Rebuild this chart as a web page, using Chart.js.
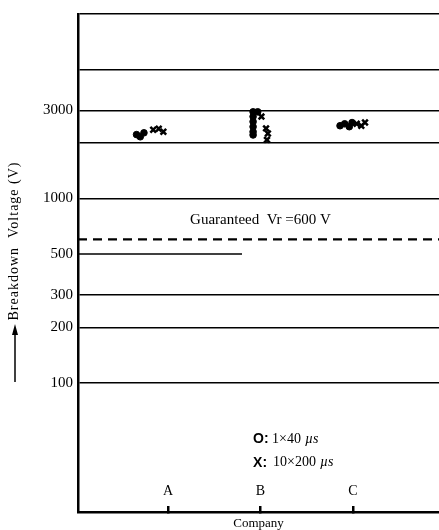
<!DOCTYPE html>
<html>
<head>
<meta charset="utf-8">
<script src="https://cdn.jsdelivr.net/npm/chart.js@4/dist/chart.umd.min.js"></script>
<style>
html,body{margin:0;padding:0;background:#fff;overflow:hidden;}
#wrap{width:439px;height:530px;position:relative;}
</style>
</head>
<body>
<div id="wrap"><canvas id="c"></canvas></div>
<script>
// Companies (category positions on x axis)
const categories = ['A', 'B', 'C'];
const categoryPos = [1, 2, 3];

// Series 1: 1×40 µs (circles) — x position (around company) and breakdown voltage (V)
const wave1X = [0.66, 0.7, 0.74, 1.92, 1.92, 1.92, 1.92, 1.92, 1.92, 1.97, 2.86, 2.91, 2.96, 2.99];
const wave1Y = [2220, 2160, 2270, 2950, 2780, 2610, 2450, 2300, 2210, 2950, 2480, 2540, 2450, 2580];

// Series 2: 10×200 µs (crosses)
const wave2X = [0.84, 0.9, 0.95, 2.01, 2.06, 2.08, 2.07, 3.04, 3.09, 3.13];
const wave2Y = [2360, 2390, 2300, 2780, 2400, 2250, 2080, 2540, 2480, 2580];

// Guaranteed Vr line
const guaranteedX = [0.027, 3.93];
const guaranteedY = [600, 600];

// Partial 500 V line
const partialX = [0.027, 1.8];
const partialY = [500, 500];

// Y axis ticks (gridlines) and labelled values
const yGridValues = [20, 100, 200, 300, 500, 1000, 2000, 3000, 5000, 10000];
const yLabelValues = [100, 200, 300, 500, 1000, 3000];

const SERIF = '"Liberation Serif", "DejaVu Serif", serif';

const pts = (xs, ys) => xs.map((x, i) => ({x: x, y: ys[i]}));

const decor = {
  id: 'decor',
  afterDraw(chart) {
    const ctx = chart.ctx;
    const xs = chart.scales.x, ys = chart.scales.y;
    ctx.save();
    ctx.fillStyle = '#000';
    ctx.strokeStyle = '#000';

    // Category labels A, B, C inside the plot above the axis
    ctx.font = '14px ' + SERIF;
    ctx.textAlign = 'center';
    ctx.textBaseline = 'middle';
    categories.forEach((c, i) => {
      ctx.fillText(c, xs.getPixelForValue(categoryPos[i]), ys.getPixelForValue(26));
    });

    // Guaranteed text
    ctx.font = '15px ' + SERIF;
    ctx.fillText('Guaranteed  Vr =600 V', xs.getPixelForValue(2.0), ys.getPixelForValue(760));

    // Legend
    const lx = xs.getPixelForValue(1.92);
    const ly1 = ys.getPixelForValue(49.8);
    const ly2 = ys.getPixelForValue(37);
    ctx.textAlign = 'left';
    ctx.font = 'bold 14px "Liberation Sans", Arial, sans-serif';
    ctx.fillText('O:', lx, ly1);
    ctx.fillText('X:', lx, ly2);
    ctx.font = '14px ' + SERIF;
    ctx.fillText('1×40', lx + 19, ly1);
    ctx.fillText('10×200', lx + 20, ly2);
    const w1 = ctx.measureText('1×40').width;
    const w2 = ctx.measureText('10×200').width;
    ctx.font = 'italic 14px ' + SERIF;
    ctx.fillText('µs', lx + 19 + w1 + 4, ly1);
    ctx.fillText('µs', lx + 20 + w2 + 4, ly2);

    // Y axis title rotated
    ctx.save();
    ctx.translate(14, 241);
    ctx.rotate(-Math.PI / 2);
    ctx.font = '14px ' + SERIF;
    ctx.textAlign = 'center';
    ctx.textBaseline = 'middle';
    try { ctx.letterSpacing = '1px'; } catch (e) {}
    ctx.fillText('Breakdown  Voltage (V)', 0, 0);
    ctx.restore();

    // Arrow
    ctx.lineWidth = 1.5;
    ctx.beginPath();
    ctx.moveTo(15, 382);
    ctx.lineTo(15, 332);
    ctx.stroke();
    ctx.beginPath();
    ctx.moveTo(15, 324);
    ctx.lineTo(12, 335);
    ctx.lineTo(18, 335);
    ctx.closePath();
    ctx.fill();
    ctx.restore();
  }
};

new Chart(document.getElementById('c'), {
  type: 'scatter',
  data: {
    datasets: [
      {
        label: '1×40 µs',
        data: pts(wave1X, wave1Y),
        pointStyle: 'circle',
        pointRadius: 3.3,
        backgroundColor: '#000',
        borderColor: '#000',
        borderWidth: 1
      },
      {
        label: '10×200 µs',
        data: pts(wave2X, wave2Y),
        pointStyle: 'crossRot',
        pointRadius: 4,
        borderColor: '#000',
        borderWidth: 2.5
      },
      {
        type: 'line',
        label: 'Guaranteed',
        data: pts(guaranteedX, guaranteedY),
        borderColor: '#000',
        borderWidth: 2.2,
        borderDash: [9, 6],
        pointRadius: 0
      },
      {
        type: 'line',
        label: 'partial',
        data: pts(partialX, partialY),
        borderColor: '#000',
        borderWidth: 1.6,
        pointRadius: 0
      }
    ]
  },
  options: {
    responsive: true,
    maintainAspectRatio: false,
    animation: false,
    layout: {autoPadding: false, padding: {top: 11, right: 0, left: 0, bottom: 0}},
    plugins: {legend: {display: false}, tooltip: {enabled: false}},
    scales: {
      x: {
        type: 'linear',
        min: 0.027,
        max: 3.93,
        afterBuildTicks: s => { s.ticks = categoryPos.map(v => ({value: v})); },
        afterFit: s => { s.height = 18; s.paddingRight = 0; s.paddingLeft = 0; },
        ticks: {display: false},
        grid: {display: true, drawOnChartArea: false, drawTicks: true, tickLength: -6, color: '#000', lineWidth: 2.5},
        border: {display: true, color: '#000', width: 2.5},
        title: {display: true, text: 'Company', color: '#000', font: {family: SERIF, size: 13}, padding: {top: 0, bottom: -1}}
      },
      y: {
        type: 'logarithmic',
        min: 20,
        max: 10000,
        afterBuildTicks: s => { s.ticks = yGridValues.map(v => ({value: v})); },
        afterFit: s => { s.width = 78; },
        ticks: {
          callback: v => yLabelValues.includes(v) ? String(v) : '',
          color: '#000',
          font: {family: SERIF, size: 15},
          padding: 5,
          autoSkip: false
        },
        grid: {
          drawTicks: false,
          color: c => (c.tick && (c.tick.value === 500 || c.tick.value === 20)) ? 'rgba(0,0,0,0)' : '#000',
          lineWidth: 1.6
        },
        border: {display: true, color: '#000', width: 2.5}
      }
    }
  },
  plugins: [decor]
});
</script>
</body>
</html>
